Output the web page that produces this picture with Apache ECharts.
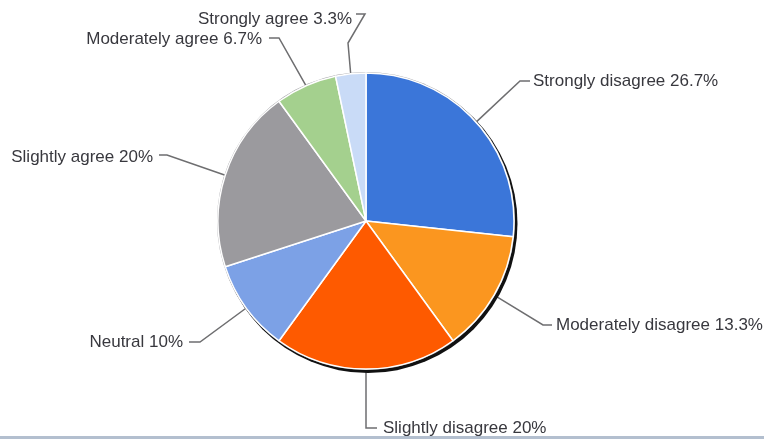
<!DOCTYPE html>
<html>
<head>
<meta charset="utf-8">
<script src="https://cdn.jsdelivr.net/npm/echarts@6/dist/echarts.min.js"></script>
<style>
  html, body { margin: 0; padding: 0; background: #fff; }
  #chart { width: 764px; height: 439px; }
</style>
</head>
<body>
<div id="chart"></div>
<script>
// Survey responses, percentage of respondents per answer
const categories = [
  'Strongly disagree',
  'Moderately disagree',
  'Slightly disagree',
  'Neutral',
  'Slightly agree',
  'Moderately agree',
  'Strongly agree'
];
const percents = [26.7, 13.3, 20, 10, 20, 6.7, 3.3];
const sliceColors = ['#3b76d9', '#fb961f', '#fe5a00', '#7ca1e6', '#9b9a9e', '#a4d08e', '#c9dbf7'];

// Where each label sits and how its leader line bends (after the point on the pie edge)
const labelPlacement = [
  { x: 533, y: 81, align: 'left',  bends: [[520, 81], [530, 81]] },
  { x: 556, y: 325, align: 'left', bends: [[543, 325], [552, 325]] },
  { x: 383, y: 428, align: 'left', bends: [[366, 428], [377, 428]] },
  { x: 183, y: 342, align: 'right', bends: [[200, 342], [189, 342]] },
  { x: 153, y: 157, align: 'right', bends: [[167, 155], [159, 155]] },
  { x: 262, y: 39, align: 'right', bends: [[279, 38], [269, 38]] },
  { x: 352, y: 19, align: 'right', bends: [[348, 43], [365, 14], [356, 14]] }
];

const CX = 366, CY = 221, R = 148;

const chart = echarts.init(document.getElementById('chart'), null, { renderer: 'canvas' });

chart.setOption({
  backgroundColor: '#ffffff',
  animation: false,
  graphic: [{
    type: 'rect',
    left: 0, bottom: 0,
    shape: { width: 764, height: 3 },
    style: { fill: '#b3bfcf' },
    silent: true
  }],
  series: [
    // dark rim on the lower right
    {
      type: 'pie', silent: true, center: [CX + 2, CY + 2.5], radius: R + 1.5,
      label: { show: false }, labelLine: { show: false },
      itemStyle: { color: '#111' },
      data: [{ value: 1, name: '' }]
    },
    // thin grey rim
    {
      type: 'pie', silent: true, center: [CX, CY], radius: R + 1,
      label: { show: false }, labelLine: { show: false },
      itemStyle: { color: '#a0a0a4' },
      data: [{ value: 1, name: '' }]
    },
    {
      type: 'pie',
      center: [CX, CY],
      radius: R,
      startAngle: 90,
      clockwise: true,
      avoidLabelOverlap: false,
      itemStyle: { borderColor: '#ffffff', borderWidth: 1.5 },
      label: {
        show: true,
        position: 'outside',
        formatter: (p) => p.name + ' ' + p.value + '%',
        fontFamily: 'Liberation Sans, Arial, sans-serif',
        fontSize: 17,
        color: '#38383e'
      },
      labelLine: {
        show: true,
        lineStyle: { color: '#6e6e70', width: 1.5 }
      },
      labelLayout: (params) => {
        const lp = labelPlacement[params.dataIndex];
        const start = params.labelLinePoints ? params.labelLinePoints[0] : [CX, CY];
        return {
          x: lp.x,
          y: lp.y,
          align: lp.align,
          verticalAlign: 'middle',
          labelLinePoints: [start].concat(lp.bends)
        };
      },
      data: categories.map((name, i) => ({
        name: name,
        value: percents[i],
        itemStyle: { color: sliceColors[i] }
      }))
    }
  ]
});
</script>
</body>
</html>
